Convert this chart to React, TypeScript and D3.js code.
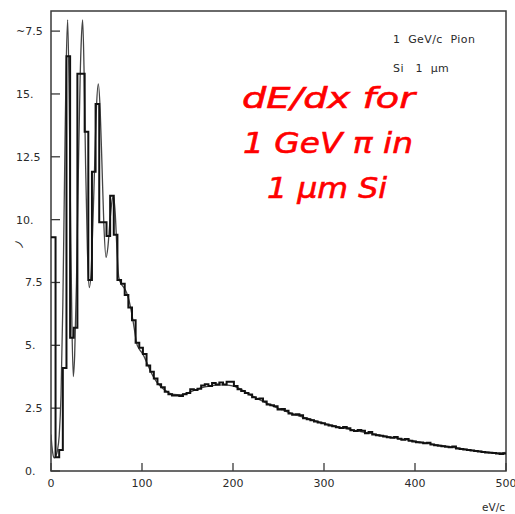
import React from "react";
import * as d3 from "d3";

// Smooth curve (calculated spectrum): energy loss (eV/c) vs value
const curveX = [0, 1, 2, 3.5, 5, 7, 9, 11, 13, 15, 16.5, 18.3, 20, 21.5, 23, 24.5, 26, 28, 30, 32, 33.5, 34.8, 36.5, 38, 40, 42, 44, 46, 48, 50, 52, 54, 56, 58, 60.5, 62.5, 64.5, 66.5, 68.5, 70.5, 72.5, 74.5, 77, 80, 83, 86, 88, 90, 92, 94, 97, 100, 103, 106, 109, 112, 116, 120, 125, 130, 135, 142, 150, 158, 166, 174, 182, 190, 198, 205, 212, 219, 228, 237, 248, 259, 270, 281, 294, 307, 320, 332, 346, 361, 376, 391, 405, 420, 437, 453, 468, 482, 491, 500];
const curveY = [1.45, 1.0, 0.7, 0.52, 0.58, 0.8, 1.4, 3.0, 6.6, 12.0, 15.8, 17.95, 14.8, 10.0, 5.8, 3.76, 4.6, 7.5, 11.8, 15.6, 17.3, 17.95, 15.6, 12.2, 8.8, 7.3, 7.9, 9.8, 12.2, 14.5, 15.4, 14.4, 12.2, 9.9, 8.5, 8.9, 9.8, 10.6, 10.93, 10.3, 8.8, 7.7, 7.45, 7.3, 7.1, 6.75, 6.4, 6.0, 5.55, 5.1, 4.85, 4.7, 4.5, 4.25, 4.0, 3.78, 3.55, 3.38, 3.22, 3.1, 3.05, 3.03, 3.1, 3.22, 3.32, 3.38, 3.42, 3.43, 3.4, 3.32, 3.18, 3.03, 2.86, 2.7, 2.52, 2.36, 2.22, 2.1, 1.96, 1.83, 1.72, 1.63, 1.53, 1.43, 1.33, 1.24, 1.15, 1.06, 0.97, 0.88, 0.8, 0.74, 0.71, 0.74];

// Histogram (simulated spectrum), 4 eV/c bins starting at 1 eV/c
const binOrigin = 1;
const binWidth = 4;
const histValues = [
  9.3, 0.55, 0.84, 4.1, 16.5, 5.3, 5.7, 15.8, 15.8, 13.5,
  7.6, 11.9, 14.6, 9.9, 9.9, 9.35, 10.95, 9.4, 7.6, 7.45,
  7.0, 6.5, 6.0, 5.1, 4.9, 4.65, 4.2, 3.95, 3.68, 3.45,
  3.33, 3.15, 3.05, 3.0, 3.0, 2.98, 3.05, 3.1, 3.25, 3.22,
  3.27, 3.4, 3.45, 3.38, 3.5, 3.44, 3.52, 3.44, 3.55, 3.55,
  3.38, 3.25, 3.18, 3.1, 3.04, 2.93, 2.86, 2.88, 2.76, 2.65,
  2.62, 2.58, 2.45, 2.47, 2.4, 2.29, 2.24, 2.26, 2.22, 2.1,
  2.06, 2.02, 1.97, 1.93, 1.9, 1.85, 1.81, 1.78, 1.74, 1.71,
  1.75, 1.7, 1.62, 1.59, 1.63, 1.6, 1.5, 1.55, 1.45, 1.42,
  1.4, 1.37, 1.34, 1.32, 1.35, 1.28, 1.24, 1.27, 1.2, 1.17,
  1.14, 1.13, 1.1, 1.12, 1.05, 1.02, 1.0, 0.98, 0.96, 0.94,
  0.97, 0.9, 0.88, 0.86, 0.84, 0.82, 0.8, 0.78, 0.76, 0.74,
  0.73, 0.72, 0.7, 0.68, 0.7,
];

const xTicks = [0, 100, 200, 300, 400, 500];
const yTicks = [0, 2.5, 5, 7.5, 10, 12.5, 15, 17.5];
const yTickLabels = ["0.", "2.5", "5.", "7.5", "10.", "12.5", "15.", "~7.5"];
const xLabel = "eV/c";
const legendLines = ["1  GeV/c  Pion", "Si   1  \u00b5m"];
const titleLines = ["dE/dx for", "1 GeV \u03c0 in", "1 \u03bcm Si"];

export default function App() {
  const W = 515, H = 514;
  const left = 51, right = 506, top = 11, bottom = 471;
  const x = d3.scaleLinear().domain([0, 500]).range([left, right]);
  const y = d3.scaleLinear().domain([0, 18.3]).range([bottom, top]);

  const curvePts: [number, number][] = curveX.map((v, i) => [v, curveY[i]]);
  const curvePath = d3
    .line<[number, number]>()
    .x((d) => x(d[0]))
    .y((d) => y(d[1]))
    .curve(d3.curveMonotoneX)(curvePts) as string;

  const stepPts: [number, number][] = histValues.map((v, i) => [
    i === 0 ? 0 : binOrigin + i * binWidth,
    v,
  ]);
  stepPts.push([500, histValues[histValues.length - 1]]);
  const histPath = d3
    .line<[number, number]>()
    .x((d) => x(d[0]))
    .y((d) => y(d[1]))
    .curve(d3.curveStepAfter)(stepPts) as string;

  const axisColor = "#3a3a3a";
  const txt = "#2a2a2a";
  const font = "DejaVu Sans, sans-serif";

  return (
    <svg width={W} height={H} style={{ position: "absolute", left: 0, top: 0, background: "#fff" }}>
      <defs>
        <clipPath id="plot">
          <rect x={left} y={top} width={right - left} height={bottom - top} />
        </clipPath>
      </defs>
      <rect x={0} y={0} width={W} height={H} fill="#fff" />
      {/* frame */}
      <rect x={left} y={top} width={right - left} height={bottom - top} fill="none" stroke={axisColor} strokeWidth={1.5} />
      {/* x ticks */}
      {xTicks.map((t) => (
        <g key={"xt" + t}>
          <line x1={x(t)} x2={x(t)} y1={bottom} y2={bottom - 8} stroke={axisColor} strokeWidth={1.3} />
          <text x={x(t)} y={487} textAnchor="middle" fontFamily={font} fontSize={11} fill={txt}>
            {t}
          </text>
        </g>
      ))}
      <text x={505} y={511} textAnchor="end" fontFamily={font} fontSize={10.5} fill={txt}>
        {xLabel}
      </text>
      {/* y ticks */}
      {yTicks.map((t, i) => (
        <g key={"yt" + t}>
          <line x1={left} x2={left + 9} y1={y(t)} y2={y(t)} stroke={axisColor} strokeWidth={1.3} />
          <text
            x={t >= 10 ? 16 : 25}
            y={y(t) + 4}
            fontFamily={font}
            fontSize={11}
            fill={txt}
          >
            {yTickLabels[i]}
          </text>
        </g>
      ))}
      <text x={17} y={246} fontFamily={font} fontSize={11} fill={txt} transform="rotate(-50 21 243)">
        )
      </text>
      {/* data */}
      <g clipPath="url(#plot)" fill="none">
        <path d={curvePath} stroke="#444" strokeWidth={1.3} strokeLinejoin="round" />
        <path d={histPath} stroke="#111" strokeWidth={2} strokeLinejoin="miter" />
      </g>
      {/* legend */}
      {legendLines.map((s, i) => (
        <text
          key={"lg" + i}
          x={393}
          y={43 + i * 29}
          fontFamily={font}
          fontSize={11}
          letterSpacing={0.4}
          fill={txt}
          style={{ whiteSpace: "pre" }}
        >
          {s}
        </text>
      ))}
      {/* red annotation */}
      {titleLines.map((s, i) => {
        const lens = [173, 170, 120];
        const cx = [328.5, 328, 327];
        return (
          <text
            key={"tt" + i}
            x={cx[i] - lens[i] / 2}
            y={108 + i * 45}
            fontFamily={font}
            fontStyle="italic"
            fontSize={29}
            fill="#ff0000"
            stroke="#ff0000"
            strokeWidth={0.6}
            textLength={lens[i]}
            lengthAdjust="spacingAndGlyphs"
          >
            {s}
          </text>
        );
      })}
    </svg>
  );
}
